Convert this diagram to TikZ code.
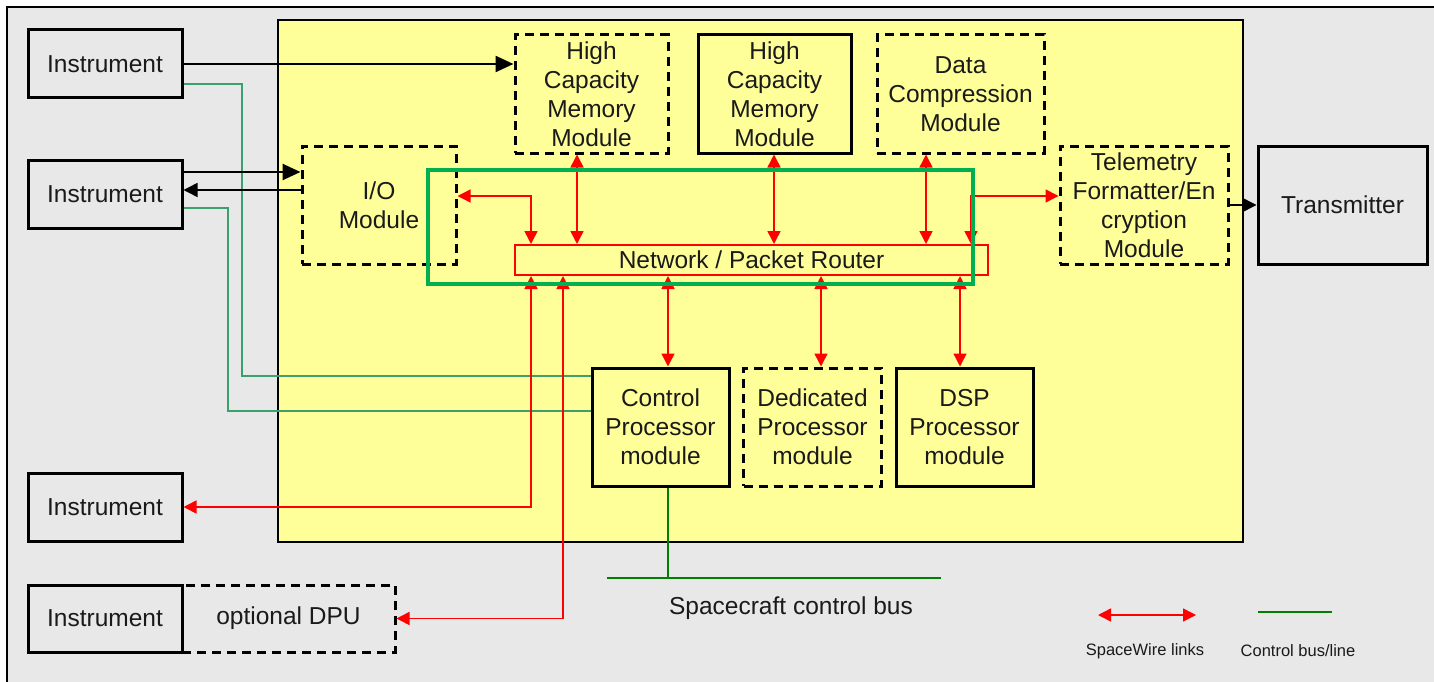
\documentclass[tikz,border=0pt]{standalone}
\usepackage{fontspec}
\setmainfont{Liberation Sans}
\usetikzlibrary{arrows.meta,calc}
\definecolor{bggrey}{RGB}{232,232,232}
\definecolor{yel}{RGB}{255,255,153}
\definecolor{swred}{RGB}{255,0,0}
\definecolor{ctlteal}{RGB}{60,160,110}
\definecolor{busgreen}{RGB}{0,128,0}
\definecolor{boxgreen}{RGB}{0,176,80}
\definecolor{txt}{RGB}{26,26,26}
\begin{document}
\begin{tikzpicture}[x=1pt,y=-1pt,
  every node/.style={font=\fontsize{24.5}{29}\selectfont, align=center, inner sep=0pt, text=txt},
  solidbox/.style={draw=black, line width=3pt, rectangle},
  dashbox/.style={draw=black, line width=3pt, rectangle, dash pattern=on 9pt off 6pt},
  sw/.style={draw=swred, line width=1.5pt, {Triangle[length=13pt,width=13pt]}-{Triangle[length=13pt,width=13pt]}},
  blk/.style={draw=black, line width=2.5pt, -{Triangle[length=18pt,width=16pt]}},
  blkthin/.style={draw=black, line width=1.5pt, -{Triangle[length=14pt,width=14pt]}},
  ctl/.style={draw=ctlteal, line width=1.5pt},
  bus/.style={draw=busgreen, line width=2.5pt},
  small/.style={font=\fontsize{16.5}{19}\selectfont}
]
\useasboundingbox (0,0) rectangle (1434,682);
% backgrounds
\fill[white] (0,0) rectangle (1434,682);
\fill[bggrey] (7,7) rectangle (1434,682);
\draw[black, line width=2pt] (7,682) -- (7,7) -- (1434,7);
\draw[black, line width=1.5pt, fill=yel] (278,20) rectangle (1243,542);

% coordinates
\coordinate (yA) at (0,196);
\coordinate (yB) at (0,84);
\coordinate (yC) at (0,208);
\coordinate (yIn) at (0,172);
\coordinate (yOut) at (0,190);
\coordinate (x1) at (531,0);
\coordinate (x2) at (563,0);
\coordinate (xh1) at (577,0);
\coordinate (xh2) at (774,0);
\coordinate (xdc) at (926,0);
\coordinate (xtl) at (971,0);
\coordinate (xcp) at (668,0);
\coordinate (xdp) at (821,0);
\coordinate (xds) at (960,0);
\coordinate (g1) at (242,376);
\coordinate (g2) at (228,411);
\coordinate (busL) at (607,578);
\coordinate (busR) at (941,578);
\coordinate (legA) at (1098,615);
\coordinate (legB) at (1196,615);
\coordinate (legC) at (1258,612);
\coordinate (legD) at (1332,612);

% left nodes
\node[dashbox, minimum width=213pt, minimum height=67pt] (dpu) at (288.5,618.5) {optional DPU};
\node[solidbox, fill=bggrey, minimum width=154pt, minimum height=68pt] (ins1) at (105,64) {Instrument};
\node[solidbox, minimum width=154pt, minimum height=68pt] (ins2) at (105,194) {Instrument};
\node[solidbox, minimum width=154pt, minimum height=68pt] (ins3) at (105,507) {Instrument};
\node[solidbox, fill=bggrey, minimum width=154pt, minimum height=67pt] (ins4) at (105,618.5) {Instrument};

% modules
\node[dashbox, minimum width=153pt, minimum height=118pt] (hc1) at (591.5,94) {High\\Capacity\\Memory\\Module};
\node[solidbox, minimum width=153pt, minimum height=118pt] (hc2) at (774.5,94) {High\\Capacity\\Memory\\Module};
\node[dashbox, minimum width=167pt, minimum height=118pt] (dc) at (960.5,94) {Data\\Compression\\Module};
\node[dashbox, minimum width=168pt, minimum height=118pt] (tel) at (1144,205) {Telemetry\\Formatter/En\\cryption\\Module};
\node[solidbox, minimum width=169pt, minimum height=118pt] (tx) at (1342.5,205) {Transmitter};
\node[dashbox, minimum width=154pt, minimum height=118pt] (io) at (379,205) {I/O\\Module};
\node[draw=swred, line width=2pt, minimum width=473pt, minimum height=30pt] (router) at (751.5,260) {Network / Packet Router};
\node[solidbox, minimum width=137pt, minimum height=118pt] (cp) at (660.5,427) {Control\\Processor\\module};
\node[dashbox, minimum width=138pt, minimum height=118pt] (dp) at (812.5,427) {Dedicated\\Processor\\module};
\node[solidbox, minimum width=137pt, minimum height=118pt] (dsp) at (964.5,427) {DSP\\Processor\\module};

% control lines
\draw[ctl] (ins1.east |- yB) -| (g1) -- (cp.west |- g1);
\draw[ctl] (ins2.east |- yC) -| (g2) -- (cp.west |- g2);
\draw[bus] (busL) -- (busR);
\draw[bus] (cp.south -| xcp) -- (xcp |- busL);
\node (busl) at (791,608) {Spacecraft control bus};

% black arrows
\draw[blk] (ins1.east) -- (hc1.west |- ins1.east);
\draw[blk] (ins2.east |- yIn) -- (io.west |- yIn);
\draw[blkthin] (io.west |- yOut) -- (ins2.east |- yOut);
\draw[draw=black, line width=1.5pt, -{Triangle[length=14pt,width=14pt]}] (tel.east) -- (tx.west);

% spacewire links
\draw[sw] (io.east |- yA) -| (router.north -| x1);
\draw[sw] (hc1.south -| xh1) -- (router.north -| xh1);
\draw[sw] (hc2.south -| xh2) -- (router.north -| xh2);
\draw[sw] (dc.south -| xdc) -- (router.north -| xdc);
\draw[sw] (router.north -| xtl) |- (tel.west |- yA);
\draw[sw] (router.south -| x1) |- (ins3.east);
\draw[sw] (router.south -| x2) |- (dpu.east);
\draw[sw] (router.south -| xcp) -- (cp.north -| xcp);
\draw[sw] (router.south -| xdp) -- (dp.north -| xdp);
\draw[sw] (router.south -| xds) -- (dsp.north -| xds);

% green group box
\node[draw=boxgreen, line width=4pt, minimum width=545pt, minimum height=114pt] (grp) at (700.5,227) {};

% legend
\draw[sw] (legA) -- (legB);
\draw[bus] (legC) -- (legD);
\node[small] (l1) at (1145,651) {SpaceWire links};
\node[small] (l2) at (1298,651) {Control bus/line};
\end{tikzpicture}
\end{document}
